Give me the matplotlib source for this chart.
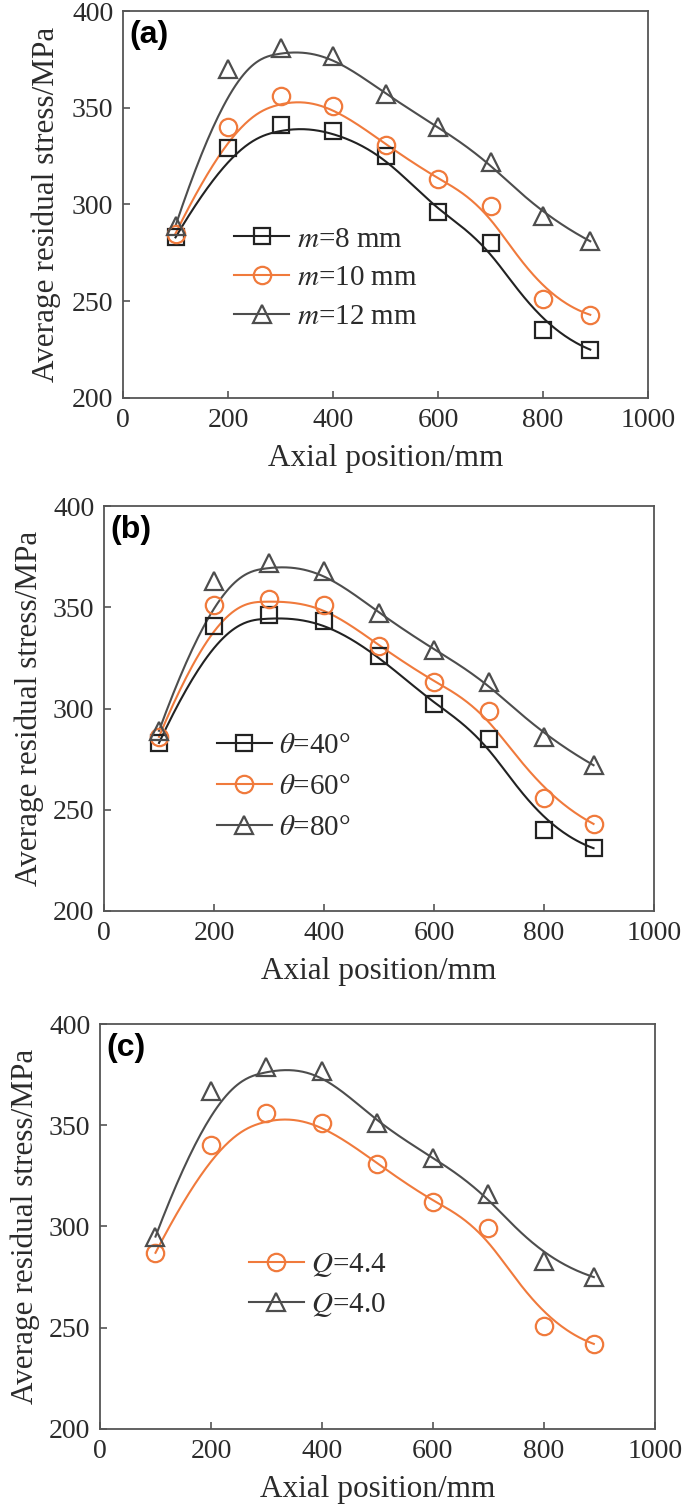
import numpy as np
import matplotlib
matplotlib.use("Agg")
import matplotlib.pyplot as plt
from matplotlib.lines import Line2D

plt.rcParams["font.family"] = ["Liberation Serif", "DejaVu Serif"]
plt.rcParams["mathtext.fontset"] = "stix"

# axial positions (mm)
x_pos = [100, 200, 300, 400, 500, 600, 700, 800, 890]

# (a) effect of m
a_m8 = [283, 329, 341, 338, 325, 296, 280, 235, 225]
a_m10 = [285, 340, 356, 351, 331, 313, 299, 251, 243]
a_m12 = [289, 370, 381, 377, 357, 340, 322, 294, 281]
a_labels = ["$m$=8 mm", "$m$=10 mm", "$m$=12 mm"]

# (b) effect of theta
b_t40 = [283, 341, 346, 343, 326, 302, 285, 240, 231]
b_t60 = [286, 351, 354, 351, 331, 313, 299, 256, 243]
b_t80 = [289, 363, 372, 368, 347, 329, 313, 286, 272]
b_labels = [r"$\theta$=40°", r"$\theta$=60°", r"$\theta$=80°"]

# (c) effect of Q
c_q44 = [287, 340, 356, 351, 331, 312, 299, 251, 242]
c_q40 = [295, 367, 379, 377, 351, 334, 316, 283, 275]
c_labels = ["$Q$=4.4", "$Q$=4.0"]

BLACK = "#222222"
ORANGE = "#f07a3c"
GRAY = "#4d4d4d"
SPINE = "#555555"
TEXT = "#2b2b2b"


def bspline(xs, ys, num=400):
    # clamped cubic B-spline with the data points as control points
    pts = np.column_stack([xs, ys]).astype(float)
    n = len(pts)
    k = 3
    t = np.concatenate([np.zeros(k), np.arange(n - k + 1), np.full(k, n - k)]).astype(float)
    u = np.linspace(0, n - k, num)
    m = len(t) - 1
    basis = np.zeros((num, m))
    for i in range(m):
        basis[:, i] = (t[i] <= u) & (u < t[i + 1])
    last = max(i for i in range(m) if t[i] < t[i + 1])
    basis[u >= t[-1], last] = 1.0
    for d in range(1, k + 1):
        new = np.zeros((num, m - d))
        for i in range(m - d):
            term = np.zeros(num)
            den1 = t[i + d] - t[i]
            if den1 > 0:
                term += (u - t[i]) / den1 * basis[:, i]
            den2 = t[i + d + 1] - t[i + 1]
            if den2 > 0:
                term += (t[i + d + 1] - u) / den2 * basis[:, i + 1]
            new[:, i] = term
        basis = new
    curve = basis[:, :n] @ pts
    return curve[:, 0], curve[:, 1]


def draw_series(ax, ys, color, marker, ms):
    cx, cy = bspline(x_pos, ys)
    ax.plot(cx, cy, color=color, lw=1.5, zorder=2)
    ax.plot(x_pos, ys, ls="none", marker=marker, ms=ms, mfc="none",
            mec=color, mew=1.6, zorder=3)
    return Line2D([], [], color=color, lw=1.5, marker=marker, ms=ms,
                  mfc="none", mec=color, mew=1.6)


def style_axes(ax, tag, ypad):
    ax.set_xlim(0, 1000)
    ax.set_ylim(200, 400)
    ax.set_xticks([0, 200, 400, 600, 800, 1000])
    ax.set_yticks([200, 250, 300, 350, 400])
    for s in ax.spines.values():
        s.set_color(SPINE)
        s.set_linewidth(1.3)
    ax.tick_params(direction="in", length=5, width=1.2, color=SPINE,
                   labelsize=20, labelcolor=TEXT, pad=7)
    ax.set_xlabel("Axial position/mm", fontsize=22.5, color=TEXT, labelpad=8)
    ax.set_ylabel("Average residual stress/MPa", fontsize=22.5, color=TEXT,
                  labelpad=ypad)
    ax.text(0.012, 0.978, tag, transform=ax.transAxes, ha="left", va="top",
            fontsize=23, fontweight="bold", family="Liberation Sans",
            color="black")


def add_legend(ax, handles, labels, anchor, spacing):
    ax.legend(handles, labels, loc="center left", bbox_to_anchor=anchor,
              frameon=False, fontsize=21, handlelength=1.9,
              handletextpad=0.25, labelspacing=spacing, borderpad=0,
              borderaxespad=0, labelcolor=TEXT)


fig = plt.figure(figsize=(6.85, 15.07), dpi=100)

ax_a = fig.add_axes([0.1796, 0.7359, 0.7664, 0.2568])
h1 = draw_series(ax_a, a_m8, BLACK, "s", 11.5)
h2 = draw_series(ax_a, a_m10, ORANGE, "o", 12.5)
h3 = draw_series(ax_a, a_m12, GRAY, "^", 13)
style_axes(ax_a, "(a)", 8)
add_legend(ax_a, [h1, h2, h3], a_labels, (0.211, 0.310), 0.42)

ax_b = fig.add_axes([0.1518, 0.3955, 0.803, 0.2687])
h1 = draw_series(ax_b, b_t40, BLACK, "s", 11.5)
h2 = draw_series(ax_b, b_t60, ORANGE, "o", 12.5)
h3 = draw_series(ax_b, b_t80, GRAY, "^", 13)
style_axes(ax_b, "(b)", 6)
add_legend(ax_b, [h1, h2, h3], b_labels, (0.205, 0.307), 0.5)

ax_c = fig.add_axes([0.146, 0.0518, 0.810, 0.2687])
h1 = draw_series(ax_c, c_q44, ORANGE, "o", 12.5)
h2 = draw_series(ax_c, c_q40, GRAY, "^", 13)
style_axes(ax_c, "(c)", 6)
add_legend(ax_c, [h1, h2], c_labels, (0.268, 0.355), 0.4)

fig.savefig("out.png", dpi=100)
